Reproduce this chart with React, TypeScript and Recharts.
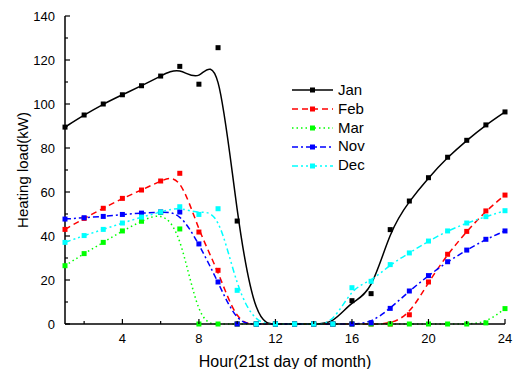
import React from 'react'
import { Legend, Line, LineChart, XAxis, YAxis } from 'recharts'

const hours = [1, 2, 3, 4, 5, 6, 7, 8, 9, 10, 11, 12, 13, 14, 15, 16, 17, 18, 19, 20, 21, 22, 23, 24]
const jan = [89.5, 95, 100, 104.2, 108.3, 112.7, 117.1, 109, 125.6, 46.8, 0, 0, 0, 0, 0, 10.6, 13.8, 42.9, 55.9, 66.5, 75.8, 83.5, 90.5, 96.4]
const feb = [43, 48, 52.6, 57.1, 60.9, 65, 68.5, 41.8, 24.4, 0, 0, 0, 0, 0, 0, 0, 0, 0, 4.2, 19.1, 31.7, 42.1, 51.4, 58.6]
const mar = [26.5, 32, 37.1, 42.3, 46.7, 50.8, 43.2, 0, 0, 0, 0, 0, 0, 0, 0, 0, 0, 0, 0, 0, 0, 0, 0.5, 7]
const nov = [47.7, 48.3, 48.9, 49.8, 50.4, 50.9, 50.9, 36.4, 19.1, 0, 0, 0, 0, 0, 0, 0, 0.5, 7.1, 15, 22, 28.3, 33.6, 38.5, 42.3]
const dec = [37.1, 40.2, 43, 45.9, 48.6, 50.9, 53.3, 49.8, 52.4, 15.3, 0, 0, 0, 0, 0, 16.5, 19.4, 27, 32.3, 37.7, 42.3, 45.9, 48.8, 51.5]

const xTicks = [2, 4, 6, 8, 10, 12, 14, 16, 18, 20, 22, 24]
const yTicks = [0, 10, 20, 30, 40, 50, 60, 70, 80, 90, 100, 110, 120, 130, 140]

const series = [
  { key: 'Jan', values: jan, color: '#000000', dash: undefined },
  { key: 'Feb', values: feb, color: '#ff0000', dash: '6 4' },
  { key: 'Mar', values: mar, color: '#00ff00', dash: '1.5 3' },
  { key: 'Nov', values: nov, color: '#0000ff', dash: '6 3 2 3' },
  { key: 'Dec', values: dec, color: '#00ffff', dash: '6 3 2 3 2 3' },
]

const data = hours.map((h, i) => {
  const row: Record<string, number> = { hour: h }
  series.forEach((s) => (row[s.key] = s.values[i]))
  return row
})

const FONT = 'Arial, "Liberation Sans", sans-serif'

const XTick = (props: any) => {
  const { x, y, payload } = props
  const major = payload.value % 4 === 0
  return (
    <g>
      <line x1={x} y1={y} x2={x} y2={y - (major ? 5 : 3)} stroke="#000" strokeWidth={1.2} />
      {major && (
        <text x={x} y={y + 19} textAnchor="middle" fontSize={13} fontFamily={FONT} fill="#000">
          {payload.value}
        </text>
      )}
    </g>
  )
}

const YTick = (props: any) => {
  const { x, y, payload } = props
  const major = payload.value % 20 === 0
  return (
    <g>
      <line x1={x} y1={y} x2={x + (major ? 5 : 3)} y2={y} stroke="#000" strokeWidth={1.2} />
      {major && (
        <text x={x - 10} y={y + 4.5} textAnchor="end" fontSize={13} fontFamily={FONT} fill="#000">
          {payload.value}
        </text>
      )}
    </g>
  )
}

const YTitle = (props: any) => {
  const vb = props.viewBox
  const cx = 22
  const cy = vb.y + vb.height / 2
  return (
    <text x={cx} y={cy} transform={`rotate(-90 ${cx} ${cy})`} textAnchor="middle" dominantBaseline="central" fontSize={15} fontFamily={FONT} fill="#000">
      Heating load(kW)
    </text>
  )
}

const squareDot = (color: string) => (props: any) => {
  const { cx, cy, index } = props
  if (cx == null || cy == null) return <g key={index} />
  return <rect key={index} x={cx - 2.5} y={cy - 2.5} width={5} height={5} fill={color} />
}

const LegendBox = () => (
  <div style={{ fontFamily: FONT, fontSize: 15, lineHeight: '18.8px' }}>
    {series.map((s) => (
      <div key={s.key} style={{ display: 'flex', alignItems: 'center', height: 18.8 }}>
        <svg width={44} height={12}>
          <line x1={1} y1={6} x2={42} y2={6} stroke={s.color} strokeWidth={1.5} strokeDasharray={s.dash} />
          <rect x={19} y={3.5} width={5} height={5} fill={s.color} />
        </svg>
        <span style={{ marginLeft: 3 }}>{s.key}</span>
      </div>
    ))}
  </div>
)

export default function App() {
  return (
    <div style={{ position: 'absolute', left: 0, top: 0, background: '#fff' }}>
      <LineChart width={515} height={369} data={data} margin={{ top: 16, right: 10, bottom: 0, left: 0 }}>
        <XAxis
          dataKey="hour"
          type="number"
          domain={[1, 24]}
          ticks={xTicks}
          interval={0}
          height={45}
          tickSize={0}
          tickMargin={0}
          tickLine={false}
          tick={<XTick />}
          axisLine={{ stroke: '#000', strokeWidth: 1.5 }}
          label={{ value: 'Hour(21st day of month)', position: 'insideBottom', offset: 2, fontSize: 16, fontFamily: FONT, fill: '#000' }}
        />
        <XAxis xAxisId="top" dataKey="hour" type="number" domain={[1, 24]} orientation="top" height={0} tick={false} tickLine={false} axisLine={{ stroke: '#000', strokeWidth: 1.5 }} />
        <YAxis
          type="number"
          domain={[0, 140]}
          ticks={yTicks}
          interval={0}
          width={65}
          tickSize={0}
          tickMargin={0}
          tickLine={false}
          tick={<YTick />}
          axisLine={{ stroke: '#000', strokeWidth: 1.5 }}
          label={<YTitle />}
        />
        <YAxis yAxisId="right" orientation="right" domain={[0, 140]} width={0} tick={false} tickLine={false} axisLine={{ stroke: '#000', strokeWidth: 1.5 }} />
        <Legend
          layout="vertical"
          align="center"
          verticalAlign="middle"
          content={<LegendBox />}
          wrapperStyle={{ left: 291, top: 81, width: 100 }}
        />
        {series.map((s) => (
          <Line
            key={s.key}
            dataKey={s.key}
            type="basis"
            stroke={s.color}
            strokeWidth={1.5}
            strokeDasharray={s.dash}
            dot={squareDot(s.color)}
            activeDot={false}
            isAnimationActive={false}
          />
        ))}
      </LineChart>
    </div>
  )
}
